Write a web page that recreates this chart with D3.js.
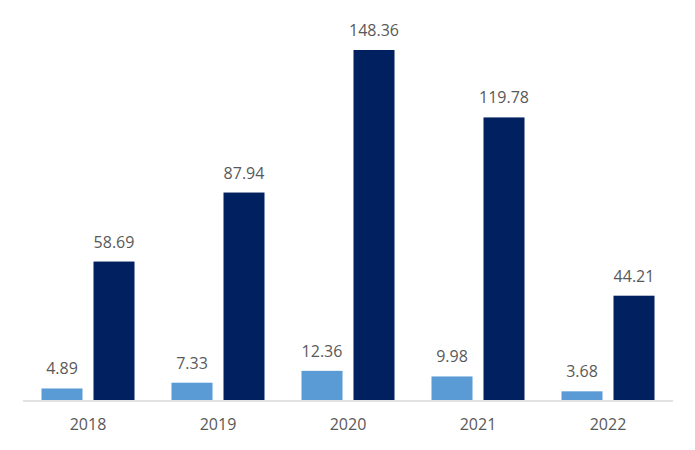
<!DOCTYPE html>
<html><head><meta charset="utf-8">
<script src="https://cdn.jsdelivr.net/npm/d3@7"></script>
<style>body{margin:0;background:#fff}</style>
</head><body><div id="chart"></div>
<script>
const categories = ["2018","2019","2020","2021","2022"];
const seriesNames = ["A","B"];
const seriesA = [4.89, 7.33, 12.36, 9.98, 3.68];
const seriesB = [58.69, 87.94, 148.36, 119.78, 44.21];
const colors = ["#5b9bd5", "#002060"];

const W = 695, H = 450;
const svg = d3.select("#chart").append("svg").attr("width", W).attr("height", H);
const x = d3.scaleBand().domain(categories).range([23, 673]);
const y = d3.scaleLinear().domain([0, 148.36]).range([400, 50]);
const barW = 41, gap = 11;
const data = categories.map((c,i)=>({c, vals:[seriesA[i], seriesB[i]]}));

const g = svg.append("g");
data.forEach(d => {
  const cx = x(d.c) + x.bandwidth()/2;
  d.vals.forEach((v,k) => {
    const bx = k===0 ? cx - gap/2 - barW : cx + gap/2;
    g.append("rect").attr("x", bx).attr("y", y(v)).attr("width", barW)
      .attr("height", y(0)-y(v)).attr("fill", colors[k]);
    g.append("text").attr("x", bx + barW/2).attr("y", y(v) - 14)
      .attr("text-anchor","middle").attr("font-family","'Open Sans', sans-serif")
      .attr("font-size", 16).attr("fill","#595959").text(v.toFixed(2));
  });
});

svg.append("line").attr("x1",23).attr("x2",673).attr("y1",401).attr("y2",401)
  .attr("stroke","#d9d9d9").attr("stroke-width",1.5);

const axis = d3.axisBottom(x).tickSize(0).tickPadding(0);
const ag = svg.append("g").attr("transform","translate(0,401)").call(axis);
ag.select(".domain").remove();
ag.selectAll("text").attr("font-family","'Open Sans', sans-serif").attr("font-size",16)
  .attr("fill","#595959").attr("dy",null).attr("y",29);
</script></body></html>
